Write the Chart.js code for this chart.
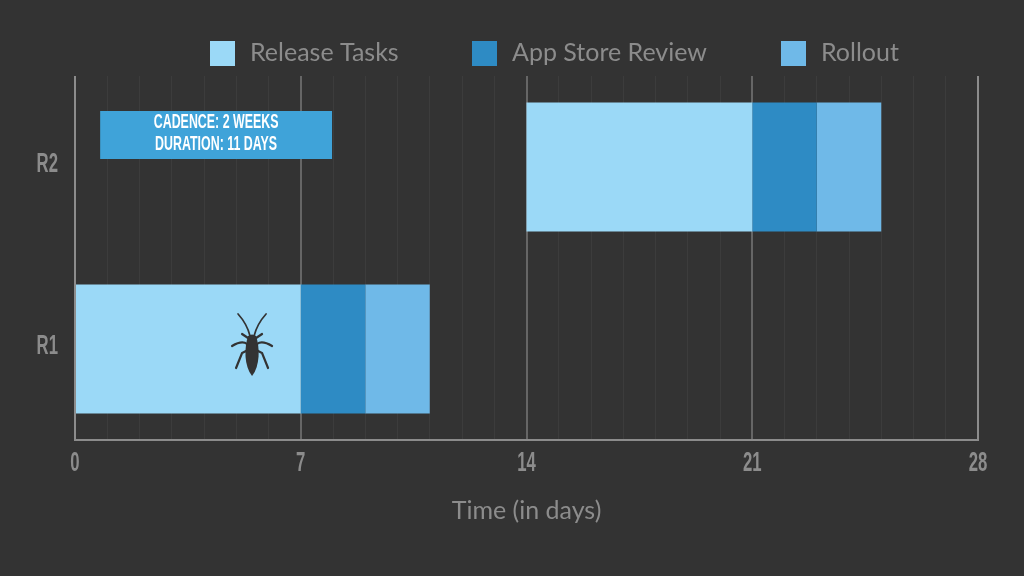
<!DOCTYPE html>
<html>
<head>
<meta charset="utf-8">
<title>Release cadence</title>
<style>
  html, body { margin: 0; padding: 0; background: #333333; }
  canvas { display: block; }
</style>
<script src="https://cdn.jsdelivr.net/npm/chart.js@4"></script>
</head>
<body>
<canvas id="releaseChart" width="1024" height="576"></canvas>
<script>
var categories = ["R2", "R1"];
var seriesNames = ["Release Tasks", "App Store Review", "Rollout"];
var releaseTasks = [[14, 21], [0, 7]];
var storeReview = [[21, 23], [7, 9]];
var rollout = [[23, 25], [9, 11]];
var seriesColors = ["#9bd9f7", "#2e8bc4", "#6fb9e8"];
var labelledDays = [0, 7, 14, 21, 28];
var noteLines = ["CADENCE: 2 WEEKS", "DURATION: 11 DAYS"];
var noteSpan = [0.78, 7.97];
var bugDay = 5.49;

var textFont = 'Lato, "Noto Sans", sans-serif';
var squeezeFont = '"Liberation Sans", sans-serif';
var greyText = "#8c8c8c";

// no condensed face installed, so squeeze a bold one sideways
function narrowText(ctx, text, x, y, size, align, color) {
  ctx.save();
  ctx.translate(x, y);
  ctx.scale(0.62, 1);
  ctx.font = 'bold ' + size + 'px ' + squeezeFont;
  ctx.textAlign = align;
  ctx.textBaseline = 'middle';
  ctx.fillStyle = color;
  ctx.fillText(text, 0, 0);
  ctx.restore();
}

// tick labels come from the scales, only the lettering is custom
var axisLabels = {
  id: 'axisLabels',
  afterDraw: function (chart) {
    var x = chart.scales.x, y = chart.scales.y;
    x.ticks.forEach(function (tick, i) {
      if (labelledDays.indexOf(tick.value) >= 0) {
        narrowText(chart.ctx, String(tick.value), x.getPixelForTick(i), 464, 27, 'center', greyText);
      }
    });
    categories.forEach(function (name, i) {
      narrowText(chart.ctx, name, 58, y.getPixelForValue(i) - 2, 27, 'right', greyText);
    });
  }
};

// legend row sits off-centre in the original, so it is drawn here
var legendRow = {
  id: 'legendRow',
  afterDraw: function (chart) {
    var ctx = chart.ctx;
    var starts = [210, 472, 781];
    ctx.save();
    ctx.font = '25px ' + textFont;
    ctx.textBaseline = 'middle';
    ctx.textAlign = 'left';
    seriesNames.forEach(function (name, i) {
      ctx.fillStyle = seriesColors[i];
      ctx.fillRect(starts[i], 41, 25, 25);
      ctx.fillStyle = greyText;
      ctx.fillText(name, starts[i] + 40, 53);
    });
    ctx.restore();
  }
};

var noteBox = {
  id: 'noteBox',
  afterDatasetsDraw: function (chart) {
    var ctx = chart.ctx;
    var left = chart.scales.x.getPixelForValue(noteSpan[0]);
    var right = chart.scales.x.getPixelForValue(noteSpan[1]);
    ctx.save();
    ctx.fillStyle = "#3fa3d9";
    ctx.fillRect(left, 111, right - left, 48);
    ctx.restore();
    narrowText(ctx, noteLines[0], (left + right) / 2, 122, 20, 'center', "#ffffff");
    narrowText(ctx, noteLines[1], (left + right) / 2, 144, 20, 'center', "#ffffff");
  }
};

var bug = {
  id: 'bug',
  afterDatasetsDraw: function (chart) {
    var ctx = chart.ctx;
    var cx = chart.scales.x.getPixelForValue(bugDay);
    var cy = chart.scales.y.getPixelForValue(1) - 5;
    ctx.save();
    ctx.translate(cx, cy);
    ctx.fillStyle = "#333333";
    ctx.strokeStyle = "#333333";
    ctx.lineCap = 'round';
    ctx.beginPath();
    ctx.moveTo(-4, -8);
    ctx.quadraticCurveTo(0, -11, 4, -8);
    ctx.bezierCurveTo(8, 4, 8, 22, 0, 32);
    ctx.bezierCurveTo(-8, 22, -8, 4, -4, -8);
    ctx.fill();
    [-1, 1].forEach(function (s) {
      ctx.lineWidth = 1.7;
      ctx.beginPath(); // antenna
      ctx.moveTo(s * 2, -8);
      ctx.quadraticCurveTo(s * 5, -20, s * 14, -30);
      ctx.stroke();
      ctx.lineWidth = 2.2;
      ctx.beginPath(); // front leg
      ctx.moveTo(s * 4, -6);
      ctx.lineTo(s * 10, -10);
      ctx.stroke();
      ctx.beginPath(); // middle leg
      ctx.moveTo(s * 5, 0);
      ctx.quadraticCurveTo(s * 10, -4, s * 20, 2);
      ctx.stroke();
      ctx.beginPath(); // back leg
      ctx.moveTo(s * 6, 7);
      ctx.lineTo(s * 10, 9);
      ctx.lineTo(s * 16, 24);
      ctx.stroke();
    });
    ctx.restore();
  }
};

function gridColor(c) {
  var v = c.tick.value;
  if (v === 0 || v === 28) return "#8c8c8c";
  return v % 7 === 0 ? "#666666" : "#3c3c3c";
}

var ctx = document.getElementById("releaseChart").getContext('2d');
var releaseChart = new Chart(ctx, {
  type: 'bar',
  data: {
    labels: categories,
    datasets: [
      { label: seriesNames[0], data: releaseTasks, backgroundColor: seriesColors[0] },
      { label: seriesNames[1], data: storeReview, backgroundColor: seriesColors[1] },
      { label: seriesNames[2], data: rollout, backgroundColor: seriesColors[2] }
    ]
  },
  plugins: [noteBox, bug, legendRow, axisLabels],
  options: {
    indexAxis: 'y',
    responsive: false,
    animation: false,
    grouped: false,
    categoryPercentage: 0.709,
    barPercentage: 1,
    layout: { padding: { top: 76, right: 46, left: 0, bottom: 0 } },
    plugins: {
      legend: { display: false },
      tooltip: { enabled: false }
    },
    scales: {
      x: {
        min: 0,
        max: 28,
        afterFit: function (scale) { scale.height = 136; },
        grid: { color: gridColor, lineWidth: function (c) { return c.tick.value % 7 === 0 ? 2 : 1; }, drawTicks: false },
        border: { color: "#8c8c8c", width: 2 },
        ticks: {
          stepSize: 1,
          autoSkip: false,
          maxRotation: 0,
          color: 'rgba(0,0,0,0)',
          font: { size: 1 }
        },
        title: {
          display: true,
          text: 'Time (in days)',
          color: greyText,
          font: { family: textFont, size: 25 },
          padding: { top: 0, bottom: 50 }
        }
      },
      y: {
        afterFit: function (scale) { scale.width = 75; },
        grid: { display: false, drawTicks: false },
        border: { display: false },
        ticks: { display: false }
      }
    }
  }
});
</script>
</body>
</html>
